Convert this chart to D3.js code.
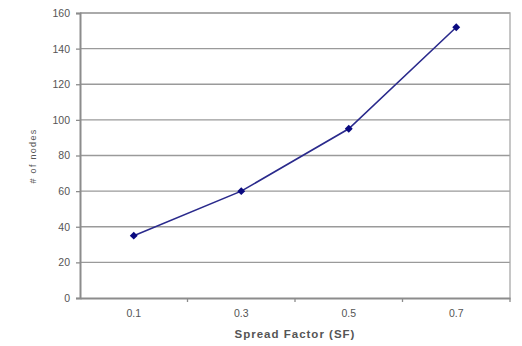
<!DOCTYPE html>
<html><head><meta charset="utf-8">
<script src="https://cdn.jsdelivr.net/npm/d3@7"></script>
<style>body{margin:0;background:#fff}svg{display:block}</style>
</head><body>
<svg id="c" width="522" height="346"></svg>
<script>
const categories = ["0.1", "0.3", "0.5", "0.7"];
const nodes = [35, 60, 95, 152];
const yTicks = [0, 20, 40, 60, 80, 100, 120, 140, 160];

const svg = d3.select("#c");
const L = 80, R = 510, T = 13, B = 298;
const FONT = "Liberation Sans, Arial, sans-serif";
const x = d3.scaleBand().domain(categories).range([L, R]);
const y = d3.scaleLinear().domain([0, 160]).range([B, T]);

// gridlines
svg.append("g").selectAll("line").data(yTicks.slice(1)).join("line")
  .attr("x1", L).attr("x2", R).attr("y1", d => y(d)).attr("y2", d => y(d))
  .attr("stroke", "#9a9a9a").attr("stroke-width", 1.3);
// plot border (right, top)
svg.append("path").attr("d", `M${L},${T}H${R}V${B}`).attr("fill", "none")
  .attr("stroke", "#a8a8a8").attr("stroke-width", 1.3);

// y axis
const ya = svg.append("g").attr("transform", `translate(${L},0)`)
  .call(d3.axisLeft(y).tickValues(yTicks).tickSize(4).tickPadding(6));
ya.select(".domain").attr("stroke", "#8c8c8c").attr("stroke-width", 2);
ya.selectAll(".tick line").attr("stroke", "#8c8c8c").attr("stroke-width", 1.3);
ya.selectAll("text").attr("font-family", FONT)
  .attr("font-size", 10.5).attr("fill", "#555");

// x axis
const xa = svg.append("g").attr("transform", `translate(0,${B})`)
  .call(d3.axisBottom(x).tickSize(0).tickPadding(12));
xa.select(".domain").attr("stroke", "#8c8c8c").attr("stroke-width", 2);
xa.selectAll("text").attr("font-family", FONT)
  .attr("font-size", 10.5).attr("fill", "#555");
// separator ticks between categories
const seps = categories.slice(1).map(c => x(c)).concat([R]);
svg.append("g").selectAll("line").data(seps).join("line")
  .attr("x1", d => d).attr("x2", d => d).attr("y1", B).attr("y2", B + 4)
  .attr("stroke", "#8c8c8c").attr("stroke-width", 1.3);

// line
const cx = d => x(d) + x.bandwidth() / 2;
svg.append("path").datum(categories.map((c, i) => [cx(c), y(nodes[i])]))
  .attr("d", d3.line()).attr("fill", "none")
  .attr("stroke", "#2a2a8c").attr("stroke-width", 1.6);
svg.append("g").selectAll("path").data(categories).join("path")
  .attr("d", d3.symbol(d3.symbolDiamond2, 40))
  .attr("transform", (c, i) => `translate(${cx(c)},${y(nodes[i])})`)
  .attr("fill", "#0a0a80");

// axis titles
svg.append("text").attr("x", 295).attr("y", 338).attr("text-anchor", "middle")
  .attr("font-family", FONT).attr("font-size", 11.5).attr("letter-spacing", 1)
  .attr("font-weight", "bold").attr("fill", "#555").text("Spread Factor (SF)");
svg.append("text").attr("transform", "translate(36,156) rotate(-90)").attr("text-anchor", "middle")
  .attr("font-family", FONT).attr("font-size", 9).attr("letter-spacing", 1.3)
  .attr("fill", "#555").text("# of nodes");
</script>
</body></html>
